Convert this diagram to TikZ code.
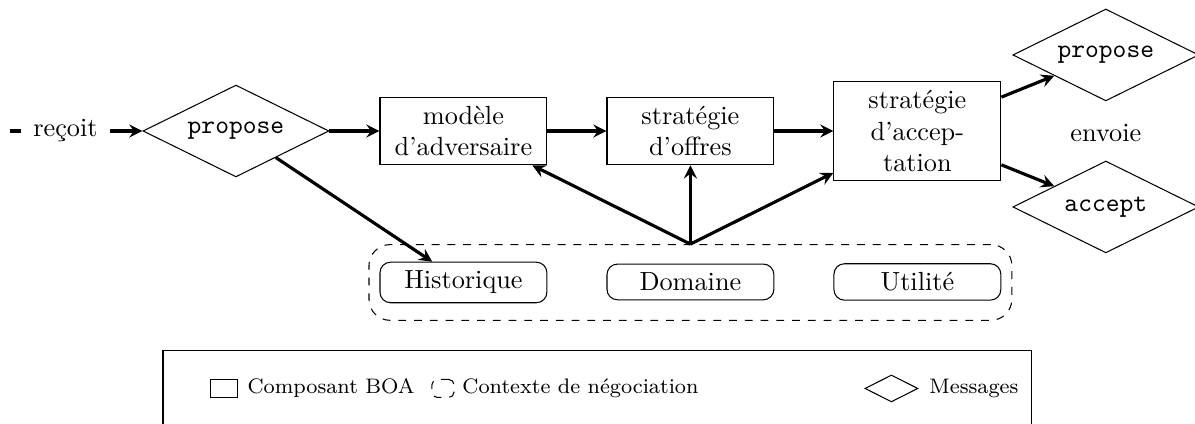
\documentclass[tikz,border=0pt]{standalone}
\usetikzlibrary{shapes.geometric,fit}
\tikzset{
  comp/.style={draw, text width=2cm, align=center},
  ctxbox/.style={draw, rounded corners, text width=2cm, align=center},
  msg/.style={draw, diamond, shape aspect=2, minimum width=2.49cm, minimum height=1.23cm, font=\ttfamily},
  flow/.style={-stealth, very thick},
  lgtext/.style={font=\footnotesize, anchor=west, inner sep=0pt},
}
\begin{document}
\begin{tikzpicture}
\useasboundingbox (0,0) rectangle (16,-5.677);
% chaine de l'agent
\coordinate (in) at (0.134,-1.754);
\node[inner sep=4.5pt] (recoit) at (0.877,-1.754) {reçoit};
\node[msg] (propin) at (3.159,-1.754) {propose};
\node[comp] (modele) at (6.205,-1.754) {modèle\\d'adversaire};
\node[comp] (offres) at (9.244,-1.754) {stratégie\\d'offres};
\node[comp] (accept) at (12.283,-1.754) {stratégie\\d'accep-\\tation};
\node[msg] (propout) at (14.806,-0.736) {propose};
\node[msg] (accout) at (14.806,-2.771) {accept};
\node (envoie) at (14.806,-1.78) {envoie};
% contexte de negociation
\node[ctxbox] (hist) at (6.205,-3.782) {Historique};
\node[ctxbox] (dom) at (9.244,-3.775) {Domaine};
\node[ctxbox] (util) at (12.283,-3.775) {Utilité};
\node[draw, dashed, rounded corners=8pt, inner xsep=4pt, inner ysep=6.5pt, fit=(hist)(dom)(util)] (ctx) {};
% fleches
\draw[very thick] (in) -- (recoit);
\draw[flow] (recoit) -- (propin);
\draw[flow] (propin) -- (modele);
\draw[flow] (modele) -- (offres);
\draw[flow] (offres) -- (accept);
\draw[flow] (accept) -- (propout);
\draw[flow] (accept) -- (accout);
\draw[flow] (propin) -- (hist);
\draw[flow] (ctx.north) -- (modele);
\draw[flow] (ctx.north) -- (offres);
\draw[flow] (ctx.north) -- (accept);
% legende
\node[draw, minimum width=11.633cm, minimum height=1.004cm] (legend) at (7.999,-5.201) {};
\node[draw, minimum width=0.361cm, minimum height=0.241cm, inner sep=0pt] (lgcomp) at (3.005,-5.201) {};
\node[lgtext] (lgcomptxt) at (3.307,-5.201) {Composant BOA};
\node[draw, dashed, rounded corners=2pt, minimum width=0.295cm, minimum height=0.241cm, inner sep=0pt] (lgctx) at (5.931,-5.201) {};
\node[lgtext] (lgctxtxt) at (6.185,-5.201) {Contexte de négociation};
\node[draw, diamond, shape aspect=2, minimum width=0.71cm, minimum height=0.361cm, inner sep=0pt] (lgmsg) at (11.935,-5.201) {};
\node[lgtext] (lgmsgtxt) at (12.437,-5.201) {Messages};
\end{tikzpicture}
\end{document}
